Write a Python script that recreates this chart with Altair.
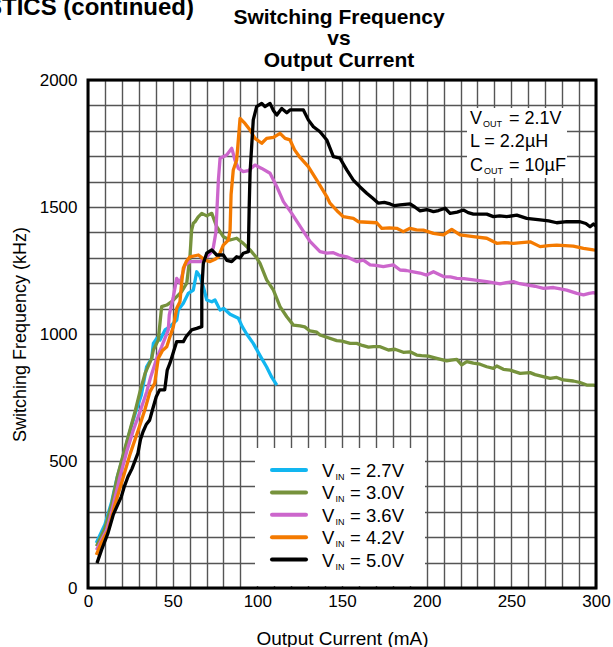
import altair as alt
import pandas as pd

FONT = "Liberation Sans"

# ---- measured curves: output current (mA) vs switching frequency (kHz) ----
series = ["2.7V", "3.0V", "3.6V", "4.2V", "5.0V"]
colors = ["#12B6F0", "#76923C", "#CC66CC", "#F47A00", "#000000"]

cur_27 = [4.9, 10, 14, 17, 20, 24, 28, 31.5, 34.6, 37.6, 38.6, 40.6, 42.5, 45.5, 48.4, 52.4, 53.3,
          56.3, 59.2, 62.2, 64.2, 66.2, 68.1, 70.1, 73.1, 75, 78, 80, 83.9, 88.8, 91, 93.7, 97.6,
          101.6, 105.5, 108.5, 111.5]
frq_27 = [177, 250, 340, 430, 500, 600, 690, 760, 871, 904, 963, 983, 976, 1016, 1029, 1055, 1094,
          1121, 1160, 1173, 1245, 1226, 1186, 1134, 1127, 1134, 1094, 1101, 1078, 1062, 1030, 1000, 963,
          915, 870, 830, 799]

cur_30 = [5, 10, 14, 17.3, 21, 24.8, 28, 30.7, 33.7, 37.6, 38.6, 41.5, 43.5, 46.5, 49.4, 52.4, 55.3,
          58.3, 60.2, 61.2, 62.2, 63.2, 65, 67.2, 70.1, 73.1, 76, 79.9, 83.9, 87.8, 91.7, 95.7, 99.6,
          101.6, 105.5, 109.5, 113.4, 117.4, 121.3, 125.2, 128, 131.1, 135.1, 137, 141, 146.9, 150,
          154.8, 158.7, 162, 165.6, 168.6, 172.5, 177.4, 181.3, 186.2, 190.2, 194.1, 197, 201, 205.9,
          211.8, 214.5, 217.8, 220.7, 223.7, 227.6, 231.5, 235.5, 239.4, 241.4, 245.3, 249.3, 252,
          255.2, 261.1, 264, 267, 272.9, 276.8, 280.7, 286.6, 290.6, 294.5, 298.5, 300]
frq_30 = [165, 235, 330, 438, 530, 622, 700, 773, 845, 904, 937, 976, 1108, 1114, 1127, 1147, 1167,
          1200, 1304, 1409, 1436, 1442, 1460, 1475, 1465, 1475, 1423, 1383, 1370, 1377, 1357, 1331, 1300,
          1278, 1213, 1173, 1108, 1068, 1035, 1032, 1028, 1012, 1007, 996, 987, 974, 972,
          963, 963, 955, 948, 950, 950, 937, 940, 928, 930, 917, 915, 913, 904,
          894, 897, 900, 878, 891, 885, 881, 871, 865, 874, 861, 858, 852,
          845, 848, 840, 835, 825, 829, 819, 815, 809, 799, 799, 797]

cur_36 = [5, 11, 14, 18.9, 23, 26.8, 31, 34.7, 37, 40.6, 43.5, 47.4, 48, 50.4, 52.4, 54.3, 57.3, 60.2,
          66.2, 70.1, 73.1, 74, 75.5, 77, 78, 81.9, 84.9, 86.8, 88.8, 91.7, 94.7, 98.6, 102.6, 107.5,
          111.5, 115.4, 120.3, 125.2, 131.1, 137, 141, 144.9, 148, 152.8, 158.7, 162.6, 166.6, 170,
          174.4, 180.3, 184.3, 188, 192.1, 196, 200, 204, 209.9, 214, 217.8, 222, 227.6, 231, 235.5,
          243.4, 247, 251.2, 255, 259.1, 264, 269, 274.9, 279, 282.7, 288.7, 292.6, 296, 298.5, 300]
frq_36 = [150, 228, 300, 438, 540, 622, 700, 773, 830, 904, 950, 1016, 1075, 1147, 1219, 1200, 1272, 1285,
          1285, 1304, 1324, 1340, 1400, 1606, 1692, 1705, 1731, 1685, 1652, 1639, 1643, 1665, 1652, 1633,
          1580, 1521, 1475, 1425, 1365, 1324, 1318, 1320, 1311, 1304, 1285, 1291, 1272, 1270,
          1265, 1272, 1252, 1250, 1245, 1240, 1232, 1245, 1226, 1225, 1219, 1218, 1213, 1210, 1206,
          1197, 1202, 1206, 1198, 1193, 1188, 1180, 1183, 1178, 1173, 1160, 1154, 1160, 1163, 1160]

cur_42 = [4.9, 8, 12, 16, 20.9, 25, 29.7, 33.5, 36.6, 39.4, 41.5, 44, 46.5, 48.4, 50.4, 52.4, 54.3,
          55.3, 56.3, 58, 60.2, 65.2, 69.1, 72.1, 75, 77, 79.9, 82.9, 83.9, 84.5, 85.8, 87.8, 89.8,
          92.7, 95.7, 98.6, 102.6, 105.5, 109.5, 113.4, 116.4, 119.3, 122, 125.2, 130.1, 135.1, 141,
          142.9, 147.8, 150.8, 156.7, 159.6, 165, 170.5, 173.5, 178, 182.3, 186.2, 190.2, 194, 198,
          204, 209.9, 214.8, 219.7, 227.6, 235.5, 241.4, 246, 251.2, 256, 261.1, 267, 272, 276.8,
          286.6, 292.6, 298.5, 300]
frq_42 = [130, 180, 228, 330, 438, 530, 622, 700, 773, 806, 904, 935, 950, 989, 1029, 1101, 1127,
          1200, 1259, 1285, 1304, 1311, 1291, 1285, 1294, 1304, 1350, 1370, 1409, 1550, 1646, 1685, 1849,
          1829, 1803, 1770, 1751, 1770, 1774, 1790, 1770, 1764, 1725, 1695, 1659, 1606, 1541,
          1515, 1480, 1462, 1455, 1442, 1440, 1438, 1416, 1418, 1416, 1403, 1416, 1410, 1409,
          1396, 1390, 1412, 1390, 1383, 1377, 1357, 1360, 1357, 1360, 1363, 1344, 1348, 1350,
          1346, 1337, 1331, 1330]

cur_50 = [5.3, 8, 11.8, 15, 19.7, 21.5, 23.6, 26, 29.5, 31, 32.5, 34.5, 36.4, 38, 40.3, 42.3, 45.3,
          46.8, 48.4, 50.5, 52.4, 56.3, 58, 61.2, 64.2, 67.2, 67.2, 68.1, 70.1, 73.1, 76, 79.9, 82,
          84.9, 87.8, 89.8, 91.7, 94.7, 95.2, 95.7, 97.6, 99.6, 102.6, 104.5, 107.5, 109.5, 111.5,
          114.4, 117.4, 119.3, 127.2, 130.1, 133.1, 137, 141, 144.9, 148.8, 152.8, 156.7, 160.5,
          164.6, 168, 171.5, 175, 178.4, 181, 184.3, 190.2, 193, 196.1, 200, 204, 207, 210.9, 213.8,
          218, 221.7, 224.5, 227.6, 235.5, 239.4, 243, 247.3, 253.2, 259.1, 263, 267, 272, 276.8,
          282.7, 290.6, 294, 296.5, 298.5, 300]
frq_50 = [98, 150, 216, 290, 360, 400, 438, 470, 531, 585, 615, 645, 661, 700, 753, 780, 780,
          858, 885, 930, 970, 970, 990, 1016, 1022, 1029, 1173, 1278, 1318, 1331, 1311, 1311, 1290,
          1285, 1304, 1300, 1318, 1324, 1500, 1634, 1843, 1895, 1908, 1895, 1908, 1880, 1862,
          1888, 1871, 1882, 1882, 1843, 1816, 1796, 1764, 1698, 1692, 1646, 1606, 1580,
          1554, 1535, 1515, 1518, 1512, 1505, 1508, 1512, 1500, 1485, 1490, 1482, 1486, 1495, 1475,
          1480, 1488, 1478, 1472, 1472, 1462, 1465, 1462, 1468, 1455, 1452, 1449, 1445, 1438,
          1442, 1442, 1435, 1422, 1433, 1425]

currents = [cur_27, cur_30, cur_36, cur_42, cur_50]
freqs = [frq_27, frq_30, frq_36, frq_42, frq_50]

rows = []
for name, cs, fs in zip(series, currents, freqs):
    for i, (c, f) in enumerate(zip(cs, fs)):
        rows.append({"series": name, "i": i, "current": c, "freq": f})
curves = pd.DataFrame(rows)

x_ticks = list(range(0, 301, 10))
y_ticks = list(range(0, 2001, 100))

W, H = 508, 508
one = pd.DataFrame({"k": [0]})

x_axis = alt.Axis(values=x_ticks, format="d", labelExpr="datum.value % 50 == 0 ? datum.label : ''",
                  grid=True, gridColor="#555555", gridWidth=1.4, ticks=False, domain=False,
                  labelFlush=False, labelFont=FONT, labelFontSize=17, labelColor="black",
                  labelPadding=5, title="Output Current (mA)", titleFont=FONT, titleFontSize=19,
                  titleFontWeight="normal", titleColor="black", titlePadding=20)
y_axis = alt.Axis(values=y_ticks, format="d", labelExpr="datum.value % 500 == 0 ? datum.label : ''",
                  grid=True, gridColor="#555555", gridWidth=1.4, ticks=False, domain=False,
                  labelFlush=False, labelFont=FONT, labelFontSize=17, labelColor="black",
                  labelPadding=11, title="Switching Frequency (kHz)", titleFont=FONT,
                  titleFontSize=18, titleFontWeight="normal", titleColor="black", titlePadding=10)

lines = alt.Chart(curves).mark_line(strokeWidth=3.3, strokeJoin="round", clip=True).encode(
    x=alt.X("current:Q", scale=alt.Scale(domain=[0, 300], nice=False, zero=False), axis=x_axis),
    y=alt.Y("freq:Q", scale=alt.Scale(domain=[0, 2000], nice=False), axis=y_axis),
    color=alt.Color("series:N", scale=alt.Scale(domain=series, range=colors), legend=None),
    detail="series:N",
    order="i:Q",
)


def box(x0, x1, y0, y1):
    return alt.Chart(one).mark_rect(fill="white").encode(
        x=alt.value(x0), x2=alt.value(x1), y=alt.value(y0), y2=alt.value(y1))


def label(txt, x, y, size=18, weight="normal", align="left"):
    return alt.Chart(one).mark_text(text=txt, font=FONT, fontSize=size, fontWeight=weight,
                                    align=align, baseline="alphabetic", color="black").encode(
        x=alt.value(x), y=alt.value(y))


layers = [box(167, 337, 368, 506), box(379, 479, 28, 98), lines]

# legend
for k, (name, col) in enumerate(zip(series, colors)):
    ys = 390 + k * 22.4
    yb = 397 + k * 22.4
    layers.append(alt.Chart(one).mark_rule(stroke=col, strokeWidth=4, strokeCap="round").encode(
        x=alt.value(184), x2=alt.value(218), y=alt.value(ys)))
    layers.append(label("V", 234, yb, size=18.5))
    layers.append(label("IN", 247.5, yb + 3, size=9))
    layers.append(label("= " + name, 262, yb, size=18.5))

# circuit conditions
layers += [
    label("V", 382, 44), label("OUT", 395, 47, size=9), label("= 2.1V", 421, 44),
    label("L = 2.2\u00b5H", 382, 67),
    label("C", 382, 91), label("OUT", 396, 94, size=9), label("= 10\u00b5F", 421, 91),
]

# titles
layers += [
    label("TYPICAL CHARACTERISTICS (continued)", 106, -65, size=24, weight="bold", align="right"),
    label("Switching Frequency", 251, -56, size=21, weight="bold", align="center"),
    label("vs", 251, -35, size=21, weight="bold", align="center"),
    label("Output Current", 251, -13, size=21, weight="bold", align="center"),
]

# plot frame
layers.append(alt.Chart(one).mark_rect(filled=False, stroke="black", strokeWidth=3).encode(
    x=alt.value(0), x2=alt.value(W), y=alt.value(0), y2=alt.value(H)))

chart = alt.layer(*layers).properties(
    width=W, height=H,
    autosize=alt.AutoSizeParams(type="none"),
    padding={"left": 88, "top": 80, "right": 17, "bottom": 59},
    background="white",
).configure_view(stroke=None)

chart.save("out.html", embed_options={"renderer": "svg", "actions": False})
